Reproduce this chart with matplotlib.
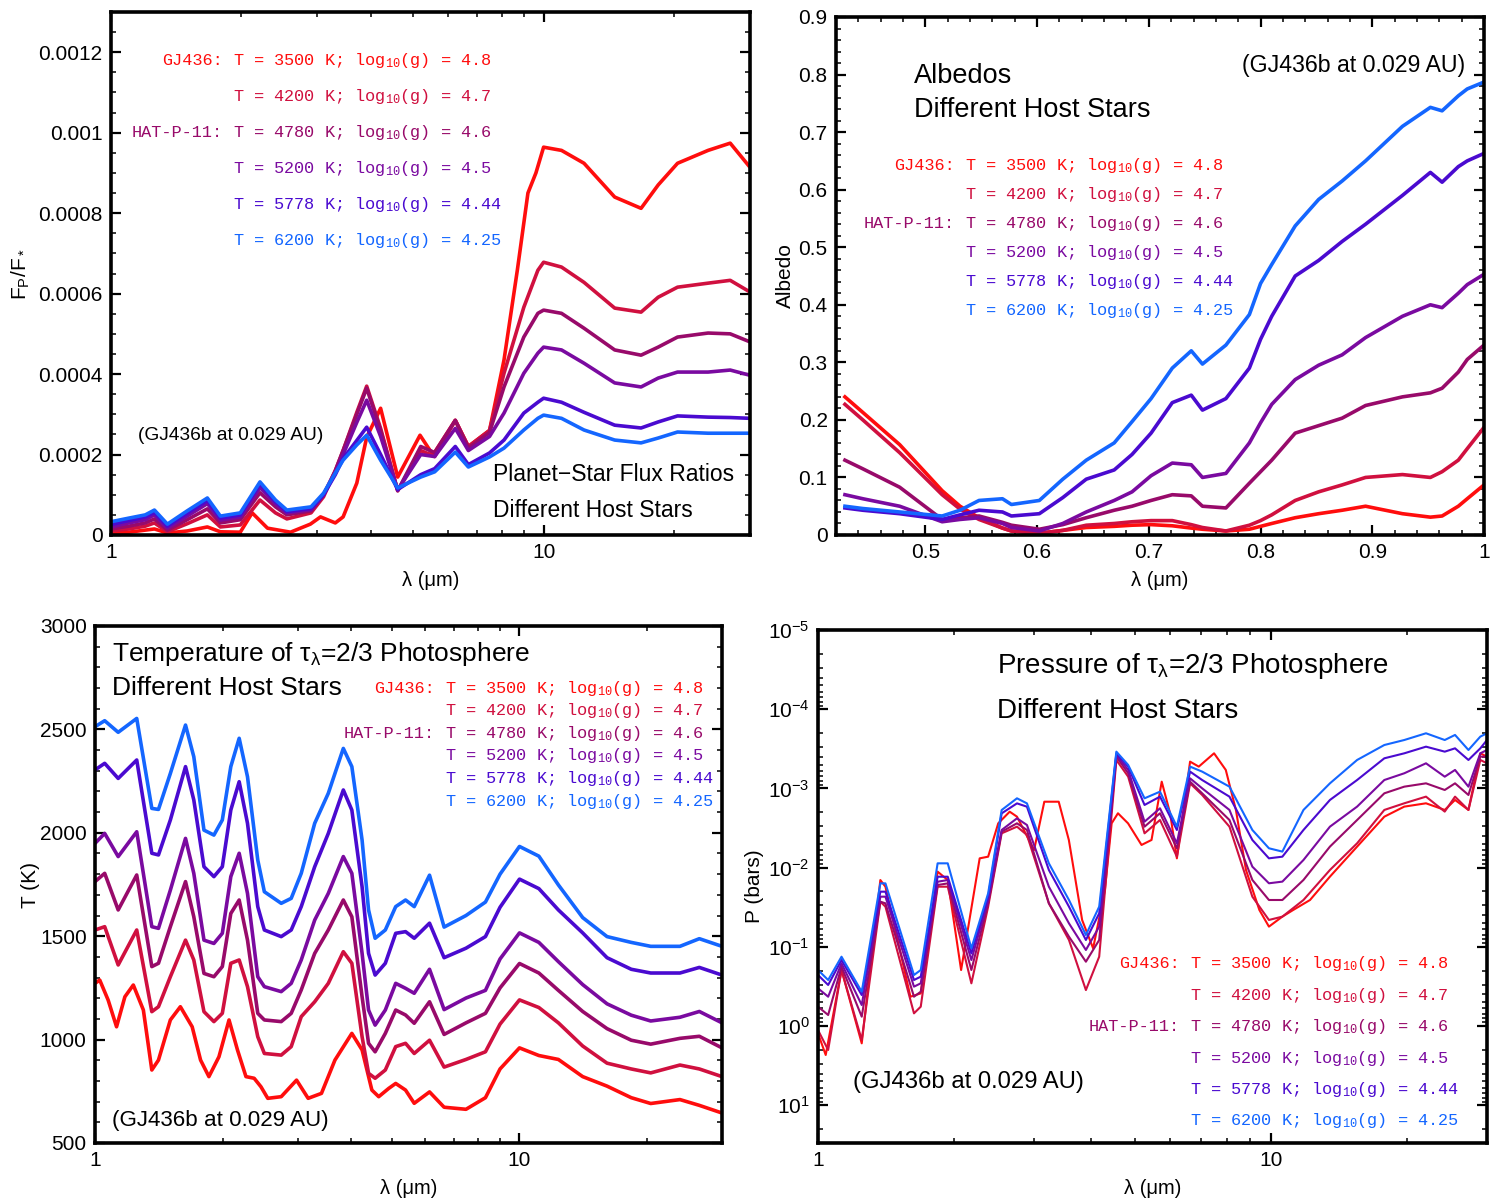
import numpy as np
import matplotlib
matplotlib.use("Agg")
import matplotlib.pyplot as plt
from matplotlib.ticker import FixedLocator, NullFormatter, MultipleLocator, LogLocator
from matplotlib.transforms import ScaledTranslation

SANS = ['Liberation Sans', 'DejaVu Sans']
MONO = ['Liberation Mono', 'DejaVu Sans Mono']
plt.rcParams['font.family'] = SANS
plt.rcParams['mathtext.default'] = 'regular'

# host stars (red -> blue)
prefixes = ['GJ436:', '', 'HAT-P-11:', '', '', '']
temps = [3500, 4200, 4780, 5200, 5778, 6200]
loggs = ['4.8', '4.7', '4.6', '4.5', '4.44', '4.25']
colors = ['#ff0d0d', '#d0103f', '#980a6a', '#7a0aa0', '#4a0ad0', '#1466ff']

# ---- panel 1: planet/star flux ratio (units of 1e-4) ----
lam_fr = [1.0, 1.1, 1.2, 1.26, 1.35, 1.5, 1.67, 1.79, 1.99, 2.21, 2.4, 2.55, 2.9, 3.1, 3.3, 3.44,
          3.7, 3.9, 4.2, 4.6, 5.2, 5.6, 6.25, 6.7, 7.5, 8.1, 9.0, 9.7, 10.0, 11, 12.4, 14.6, 16.8,
          18.4, 20.4, 24, 27, 30]
fr_4200 = [0.1, 0.15, 0.22, 0.3, 0.08, 0.28, 0.5, 0.2, 0.25, 0.87, 0.55, 0.4, 0.55, 0.95, 1.6, 2.1,
           3.05, 3.7, 2.65, 1.1, 2.1, 1.95, 2.85, 2.2, 2.6, 4.02, 5.66, 6.58, 6.78, 6.66, 6.28, 5.64,
           5.54, 5.91, 6.16, 6.26, 6.33, 6.04]
fr_4780 = [0.15, 0.22, 0.3, 0.4, 0.12, 0.38, 0.65, 0.3, 0.38, 1.05, 0.7, 0.5, 0.6, 1.0, 1.6, 2.1,
           3.0, 3.65, 2.6, 1.1, 2.2, 2.05, 2.85, 2.16, 2.55, 3.68, 4.92, 5.51, 5.59, 5.51, 5.14, 4.6,
           4.47, 4.67, 4.92, 5.02, 5.0, 4.8]
fr_5200 = [0.2, 0.3, 0.38, 0.5, 0.17, 0.47, 0.78, 0.37, 0.45, 1.18, 0.78, 0.55, 0.63, 1.0, 1.55, 2.0,
           2.8, 3.35, 2.45, 1.12, 2.0, 1.95, 2.65, 2.1, 2.45, 3.03, 4.02, 4.52, 4.67, 4.6, 4.27, 3.78,
           3.68, 3.9, 4.05, 4.05, 4.1, 3.97]
fr_5778 = [0.26, 0.36, 0.45, 0.56, 0.22, 0.54, 0.86, 0.42, 0.5, 1.27, 0.83, 0.58, 0.66, 1.0, 1.5, 1.9,
           2.35, 2.68, 2.0, 1.13, 1.5, 1.65, 2.2, 1.75, 2.04, 2.36, 3.03, 3.3, 3.4, 3.3, 3.05, 2.73,
           2.66, 2.81, 2.96, 2.93, 2.92, 2.9]
fr_6200 = [0.33, 0.42, 0.5, 0.62, 0.27, 0.6, 0.92, 0.47, 0.55, 1.32, 0.87, 0.62, 0.7, 1.04, 1.54, 1.86,
           2.24, 2.48, 1.86, 1.17, 1.44, 1.57, 2.06, 1.69, 1.94, 2.16, 2.61, 2.9, 2.98, 2.9, 2.61, 2.36,
           2.29, 2.41, 2.56, 2.53, 2.53, 2.53]
lam_fr_3500 = [1.0, 1.1, 1.26, 1.35, 1.5, 1.67, 1.79, 1.99, 2.12, 2.3, 2.6, 2.89, 3.05, 3.3, 3.44, 3.7,
               3.9, 4.2, 4.6, 5.18, 5.55, 6.25, 6.7, 7.5, 8.1, 8.7, 9.2, 9.6, 10.0, 11, 12.4, 14.6,
               16.8, 18.4, 20.4, 24, 27, 30]
fr_3500 = [0.05, 0.07, 0.15, 0.05, 0.1, 0.2, 0.08, 0.07, 0.55, 0.17, 0.07, 0.27, 0.45, 0.3, 0.45, 1.29,
           2.43, 3.15, 1.44, 2.48, 1.99, 2.85, 2.2, 2.6, 4.35, 6.6, 8.5, 9.0, 9.64, 9.56, 9.24, 8.4,
           8.12, 8.7, 9.24, 9.56, 9.74, 9.14]

# ---- panel 2: albedo ----
lam_alb = [0.428, 0.444, 0.477, 0.515, 0.531, 0.548, 0.569, 0.577, 0.602, 0.623, 0.644, 0.669, 0.685,
           0.702, 0.721, 0.738, 0.748, 0.769, 0.79, 0.80, 0.81, 0.831, 0.852, 0.873, 0.894, 0.927,
           0.952, 0.9625, 0.977, 0.985, 1.0]
alb_3500 = [.240, .213, .157, .077, .050, .030, .012, .007, .003, .008, .013, .015, .017, .018, .016, .012,
            .010, .007, .010, .015, .020, .030, .037, .043, .050, .037, .031, .033, .050, .063, .087]
alb_4200 = [.227, .200, .143, .070, .045, .027, .012, .007, .003, .008, .017, .020, .023, .025, .025, .018,
            .013, .007, .017, .025, .035, .060, .075, .087, .100, .105, .100, .110, .130, .150, .187]
alb_4780 = [.130, .115, .083, .027, .030, .033, .022, .017, .010, .018, .030, .043, .050, .060, .070, .068,
            .050, .047, .090, .110, .130, .177, .190, .203, .225, .240, .247, .255, .283, .305, .330]
alb_5200 = [.070, .063, .050, .023, .027, .030, .020, .013, .007, .020, .040, .060, .075, .103, .125, .122,
            .100, .107, .160, .195, .227, .270, .295, .313, .343, .380, .400, .395, .420, .435, .453]
alb_5778 = [.047, .043, .037, .027, .035, .043, .040, .033, .037, .065, .097, .113, .140, .177, .230, .243,
            .217, .237, .290, .340, .380, .450, .477, .510, .540, .590, .630, .613, .640, .650, .663]
alb_6200 = [.050, .046, .040, .033, .043, .060, .063, .053, .060, .097, .130, .160, .197, .237, .290, .320,
            .297, .330, .383, .437, .470, .537, .583, .615, .650, .710, .743, .737, .763, .775, .787]

# ---- panel 3: photosphere temperature (K) ----
lam_t = [1.0, 1.054, 1.134, 1.254, 1.361, 1.411, 1.505, 1.634, 1.709, 1.806, 1.906, 1.995, 2.089, 2.186,
         2.287, 2.418, 2.506, 2.746, 2.899, 3.061, 3.293, 3.545, 3.846, 4.028, 4.258, 4.41, 4.57, 4.83,
         5.11, 5.39, 5.65, 6.139, 6.644, 7.482, 8.314, 9.0, 10.0, 11.11, 12.35, 14.09, 16.08, 18.34,
         20.38, 23.88, 26.53, 30.0]
t_4200 = [1530, 1546, 1361, 1530, 1135, 1159, 1304, 1481, 1385, 1135, 1087, 1127, 1369, 1385, 1256, 1014,
          933, 925, 966, 1111, 1183, 1272, 1425, 1369, 1014, 837, 813, 853, 966, 982, 933, 997, 867, 904,
          941, 1075, 1192, 1155, 1081, 969, 886, 858, 839, 877, 858, 821]
t_4780 = [1764, 1804, 1627, 1796, 1353, 1369, 1546, 1764, 1594, 1320, 1304, 1353, 1610, 1675, 1481, 1127,
          1095, 1087, 1127, 1240, 1417, 1530, 1675, 1594, 1207, 982, 941, 1030, 1143, 1119, 1079, 1183,
          1025, 1081, 1127, 1250, 1368, 1322, 1238, 1136, 1053, 997, 978, 1006, 1016, 960]
t_5200 = [1949, 1997, 1885, 2005, 1546, 1538, 1723, 1973, 1804, 1481, 1465, 1514, 1788, 1901, 1707, 1304,
          1256, 1232, 1272, 1385, 1578, 1707, 1885, 1804, 1417, 1143, 1070, 1143, 1272, 1248, 1224, 1340,
          1145, 1201, 1238, 1390, 1516, 1470, 1377, 1266, 1173, 1118, 1090, 1108, 1136, 1081]
t_5778 = [2304, 2336, 2263, 2352, 1901, 1893, 2062, 2320, 2159, 1836, 1788, 1836, 2110, 2247, 2046, 1643,
          1530, 1498, 1530, 1643, 1836, 1997, 2207, 2110, 1739, 1417, 1312, 1369, 1514, 1522, 1490, 1563,
          1396, 1442, 1498, 1640, 1776, 1730, 1627, 1516, 1396, 1340, 1322, 1322, 1349, 1312]
t_6200 = [2513, 2542, 2486, 2553, 2118, 2113, 2287, 2521, 2368, 2013, 1989, 2062, 2320, 2457, 2271, 1868,
          1715, 1659, 1683, 1804, 2046, 2191, 2408, 2320, 1965, 1627, 1490, 1530, 1643, 1675, 1643, 1795,
          1544, 1600, 1665, 1800, 1934, 1887, 1748, 1590, 1498, 1470, 1451, 1451, 1488, 1451]
lam_t_3500 = [1.0, 1.026, 1.074, 1.124, 1.176, 1.231, 1.300, 1.361, 1.411, 1.505, 1.589, 1.694, 1.773,
              1.855, 1.959, 2.069, 2.166, 2.268, 2.371, 2.460, 2.553, 2.746, 2.984, 3.178, 3.416, 3.675,
              4.028, 4.258, 4.49, 4.66, 4.92, 5.11, 5.39, 5.65, 6.139, 6.644, 7.482, 8.314, 9.0, 10.0,
              11.11, 12.35, 14.09, 16.08, 18.34, 20.38, 23.88, 26.53, 30.0]
t_3500 = [1272, 1288, 1191, 1062, 1207, 1264, 1143, 853, 901, 1095, 1159, 1062, 901, 821, 917, 1095, 950,
          821, 813, 772, 716, 724, 804, 716, 740, 901, 1030, 950, 756, 724, 764, 788, 756, 692, 747, 673,
          663, 719, 858, 960, 923, 904, 821, 775, 719, 691, 710, 682, 645]

# ---- panel 4: photosphere pressure, log10(P / bar) ----
lam_p = [1.0, 1.053, 1.127, 1.249, 1.373, 1.409, 1.629, 1.686, 1.837, 1.934, 2.181, 2.375, 2.544, 2.75,
         2.893, 3.234, 3.582, 3.904, 4.177, 4.558, 4.84, 5.26, 5.69, 6.2, 6.63, 7.05, 8.1, 9.1, 9.9,
         10.6, 11.8, 13.5, 15.5, 17.8, 19.7, 22.0, 24.2, 25.5, 27.3, 29.0, 30]
logp_4200 = [0.051, 0.303, -0.707, 0.177, -1.570, -1.507, -0.160, -0.244, -1.759, -1.759, -0.539, -1.507,
             -2.433, -2.517, -2.412, -1.549, -1.086, -0.454, -0.875, -3.359, -3.148, -2.433, -2.601,
             -2.138, -3.064, -2.917, -2.517, -1.633, -1.339, -1.381, -1.591, -1.970, -2.307, -2.728,
             -2.812, -2.896, -2.707, -2.896, -2.728, -3.359, -3.317]
logp_4780 = [-0.244, -0.139, -0.749, -0.118, -1.570, -1.549, -0.370, -0.433, -1.780, -1.801, -0.707, -1.549,
             -2.454, -2.559, -2.475, -1.549, -1.128, -0.812, -1.086, -3.401, -3.191, -2.517, -2.686,
             -2.244, -3.085, -2.938, -2.601, -1.844, -1.591, -1.591, -1.844, -2.265, -2.601, -2.938,
             -3.022, -3.064, -2.980, -3.064, -2.917, -3.401, -3.401]
logp_5200 = [-0.476, -0.370, -0.791, -0.265, -1.633, -1.633, -0.497, -0.539, -1.822, -1.843, -0.833, -1.591,
             -2.475, -2.622, -2.538, -1.759, -1.296, -0.960, -1.254, -3.422, -3.233, -2.580, -2.749,
             -2.307, -3.127, -3.001, -2.728, -2.012, -1.802, -1.823, -2.096, -2.517, -2.770, -3.106,
             -3.191, -3.317, -3.148, -3.233, -3.022, -3.443, -3.485]
logp_5778 = [-0.644, -0.518, -0.833, -0.391, -1.696, -1.696, -0.581, -0.623, -1.885, -1.885, -0.917, -1.633,
             -2.685, -2.811, -2.769, -1.970, -1.507, -1.086, -1.422, -3.443, -3.275, -2.791, -2.896,
             -2.475, -3.212, -3.106, -2.896, -2.349, -2.117, -2.138, -2.475, -2.854, -3.106, -3.380,
             -3.443, -3.527, -3.464, -3.506, -3.359, -3.506, -3.611]
logp_6200 = [-0.707, -0.581, -0.875, -0.433, -1.801, -1.801, -0.644, -0.707, -2.054, -2.054, -0.981, -1.675,
             -2.727, -2.875, -2.811, -2.054, -1.591, -1.149, -1.507, -3.464, -3.296, -2.875, -2.959,
             -2.517, -3.275, -3.212, -3.022, -2.475, -2.244, -2.202, -2.728, -3.064, -3.359, -3.548,
             -3.611, -3.696, -3.611, -3.675, -3.485, -3.654, -3.696]
lam_p_3500 = [1.0, 1.04, 1.127, 1.249, 1.373, 1.409, 1.6, 1.686, 1.837, 1.934, 2.07, 2.275, 2.375, 2.5,
              2.65, 2.75, 3.0, 3.16, 3.4, 3.58, 3.83, 4.05, 4.3, 4.45, 4.595, 4.837, 5.18, 5.45, 5.74,
              5.99, 6.2, 6.63, 6.93, 7.49, 7.95, 8.37, 8.81, 9.43, 9.9, 10.6, 11.2, 12.2, 13.5, 15.5,
              17.8, 19.7, 22.0, 24.2, 25.5, 27.3, 29.0, 30]
logp_3500 = [0.093, 0.366, -0.707, 0.219, -1.843, -1.759, -0.370, -0.412, -1.949, -1.843, -0.707, -2.117,
             -2.138, -2.559, -2.706, -2.643, -2.222, -2.832, -2.832, -2.348, -1.338, -0.981, -1.717,
             -2.559, -2.686, -2.559, -2.286, -2.349, -3.085, -2.686, -2.117, -3.338, -3.275, -3.443,
             -3.233, -2.728, -1.970, -1.465, -1.255, -1.381, -1.465, -1.591, -1.886, -2.265, -2.643,
             -2.770, -2.812, -2.728, -2.854, -2.728, -3.443, -3.401]


def style_frame(ax):
    for s in ax.spines.values():
        s.set_linewidth(2.6)
    ax.tick_params(which='both', direction='in', top=True, right=True, labelsize=15)
    ax.tick_params(which='major', length=7, width=1.6, pad=6)
    ax.tick_params(which='minor', length=3.5, width=1.1)


def log_lambda_axis(ax):
    ax.set_xscale('log')
    ax.set_xlim(1, 30)
    ax.xaxis.set_major_locator(FixedLocator([1, 10]))
    ax.set_xticklabels(['1', '10'])
    ax.xaxis.set_minor_locator(FixedLocator([2, 3, 4, 5, 6, 7, 8, 9, 20, 30]))
    ax.xaxis.set_minor_formatter(NullFormatter())


def host_legend(ax, xt, y0, dy):
    # body starts at the "T" column, star name sits just left of it
    shift = ax.transAxes + ScaledTranslation(-0.1, 0, fig.dpi_scale_trans)
    for i in range(6):
        y = y0 - i * dy
        body = f"T = {temps[i]} K; log$_{{10}}$(g) = {loggs[i]}"
        ax.text(xt, y, body, color=colors[i], fontsize=12.2, family=MONO,
                transform=ax.transAxes, ha='left', va='center')
        if prefixes[i]:
            ax.text(xt, y, prefixes[i], color=colors[i], fontsize=12.2, family=MONO,
                    transform=shift, ha='right', va='center')


def note(ax, x, y, s, size, **kw):
    ax.text(x, y, s, fontsize=size, transform=ax.transAxes, va='center', **kw)


fig = plt.figure(figsize=(14.9, 12), dpi=100)
W, H = 1490.0, 1200.0

# panel 1
ax1 = fig.add_axes([111 / W, 1 - 535 / H, 639 / W, 523 / H])
series = [(lam_fr_3500, fr_3500), (lam_fr, fr_4200), (lam_fr, fr_4780),
          (lam_fr, fr_5200), (lam_fr, fr_5778), (lam_fr, fr_6200)]
for (lam, v), c in zip(series, colors):
    ax1.plot(lam, np.array(v) * 1e-4, color=c, lw=2.6)
log_lambda_axis(ax1)
ax1.set_ylim(0, 0.0013)
ax1.yaxis.set_minor_locator(MultipleLocator(0.00005))
ax1.set_yticks([0, 0.0002, 0.0004, 0.0006, 0.0008, 0.001, 0.0012],
               ['0', '0.0002', '0.0004', '0.0006', '0.0008', '0.001', '0.0012'])
style_frame(ax1)
ax1.set_ylabel('F$_P$/F$_*$', fontsize=15)
ax1.yaxis.set_label_coords(-0.123, 0.5)
ax1.set_xlabel('λ (μm)', fontsize=14.5)
ax1.xaxis.set_label_coords(0.5, -0.069)
host_legend(ax1, 0.191, 0.908, 0.0688)
note(ax1, 0.042, 0.191, '(GJ436b at 0.029 AU)', 13.8)
note(ax1, 0.598, 0.115, 'Planet−Star Flux Ratios', 16.5)
note(ax1, 0.598, 0.046, 'Different Host Stars', 16.5)

# panel 2
ax2 = fig.add_axes([836 / W, 1 - 535 / H, 648 / W, 518 / H])
alb = [alb_3500, alb_4200, alb_4780, alb_5200, alb_5778, alb_6200]
for v, c in zip(alb, colors):
    ax2.plot(lam_alb, v, color=c, lw=2.6)
ax2.set_xlim(0.42, 1.0)
ax2.set_ylim(0, 0.9)
ax2.set_xticks([0.5, 0.6, 0.7, 0.8, 0.9, 1.0], ['0.5', '0.6', '0.7', '0.8', '0.9', '1'])
ax2.xaxis.set_minor_locator(MultipleLocator(0.02))
ax2.set_yticks(np.arange(0, 0.95, 0.1), ['0', '0.1', '0.2', '0.3', '0.4', '0.5', '0.6', '0.7', '0.8', '0.9'])
ax2.yaxis.set_minor_locator(MultipleLocator(0.02))
style_frame(ax2)
ax2.set_ylabel('Albedo', fontsize=15)
ax2.yaxis.set_label_coords(-0.063, 0.5)
ax2.set_xlabel('λ (μm)', fontsize=14.5)
ax2.xaxis.set_label_coords(0.5, -0.070)
host_legend(ax2, 0.199, 0.714, 0.056)
note(ax2, 0.120, 0.886, 'Albedos', 19.5)
note(ax2, 0.120, 0.820, 'Different Host Stars', 19.5)
note(ax2, 0.971, 0.907, '(GJ436b at 0.029 AU)', 16.7, ha='right')

# panel 3
ax3 = fig.add_axes([95 / W, 1 - 1143 / H, 627 / W, 517 / H])
tser = [(lam_t_3500, t_3500), (lam_t, t_4200), (lam_t, t_4780),
        (lam_t, t_5200), (lam_t, t_5778), (lam_t, t_6200)]
for (lam, v), c in zip(tser, colors):
    ax3.plot(lam, v, color=c, lw=2.6)
log_lambda_axis(ax3)
ax3.set_ylim(500, 3000)
ax3.yaxis.set_major_locator(MultipleLocator(500))
ax3.yaxis.set_minor_locator(MultipleLocator(100))
style_frame(ax3)
ax3.set_ylabel('T (K)', fontsize=15)
ax3.yaxis.set_label_coords(-0.088, 0.5)
ax3.set_xlabel('λ (μm)', fontsize=14.5)
ax3.xaxis.set_label_coords(0.5, -0.070)
host_legend(ax3, 0.558, 0.880, 0.0437)
note(ax3, 0.027, 0.946, 'Temperature of τ$_λ$=2/3 Photosphere', 19)
note(ax3, 0.027, 0.880, 'Different Host Stars', 19)
note(ax3, 0.027, 0.043, '(GJ436b at 0.029 AU)', 16.1)

# panel 4
ax4 = fig.add_axes([818 / W, 1 - 1143 / H, 669 / W, 513 / H])
pser = [(lam_p_3500, logp_3500), (lam_p, logp_4200), (lam_p, logp_4780),
        (lam_p, logp_5200), (lam_p, logp_5778), (lam_p, logp_6200)]
for (lam, v), c in zip(pser, colors):
    ax4.plot(lam, 10 ** np.array(v), color=c, lw=1.5)
log_lambda_axis(ax4)
ax4.set_yscale('log')
ax4.set_ylim(30, 1e-5)
ax4.yaxis.set_major_locator(LogLocator(base=10, numticks=12))
ax4.yaxis.set_minor_locator(LogLocator(base=10, subs=np.arange(2, 10), numticks=12))
ax4.yaxis.set_minor_formatter(NullFormatter())
style_frame(ax4)
ax4.set_ylabel('P (bars)', fontsize=15)
ax4.yaxis.set_label_coords(-0.081, 0.5)
ax4.set_xlabel('λ (μm)', fontsize=14.5)
ax4.xaxis.set_label_coords(0.5, -0.070)
host_legend(ax4, 0.556, 0.349, 0.0612)
note(ax4, 0.268, 0.930, 'Pressure of τ$_λ$=2/3 Photosphere', 20)
note(ax4, 0.268, 0.842, 'Different Host Stars', 20)
note(ax4, 0.052, 0.119, '(GJ436b at 0.029 AU)', 17.2)

fig.savefig('out.png', dpi=100)
